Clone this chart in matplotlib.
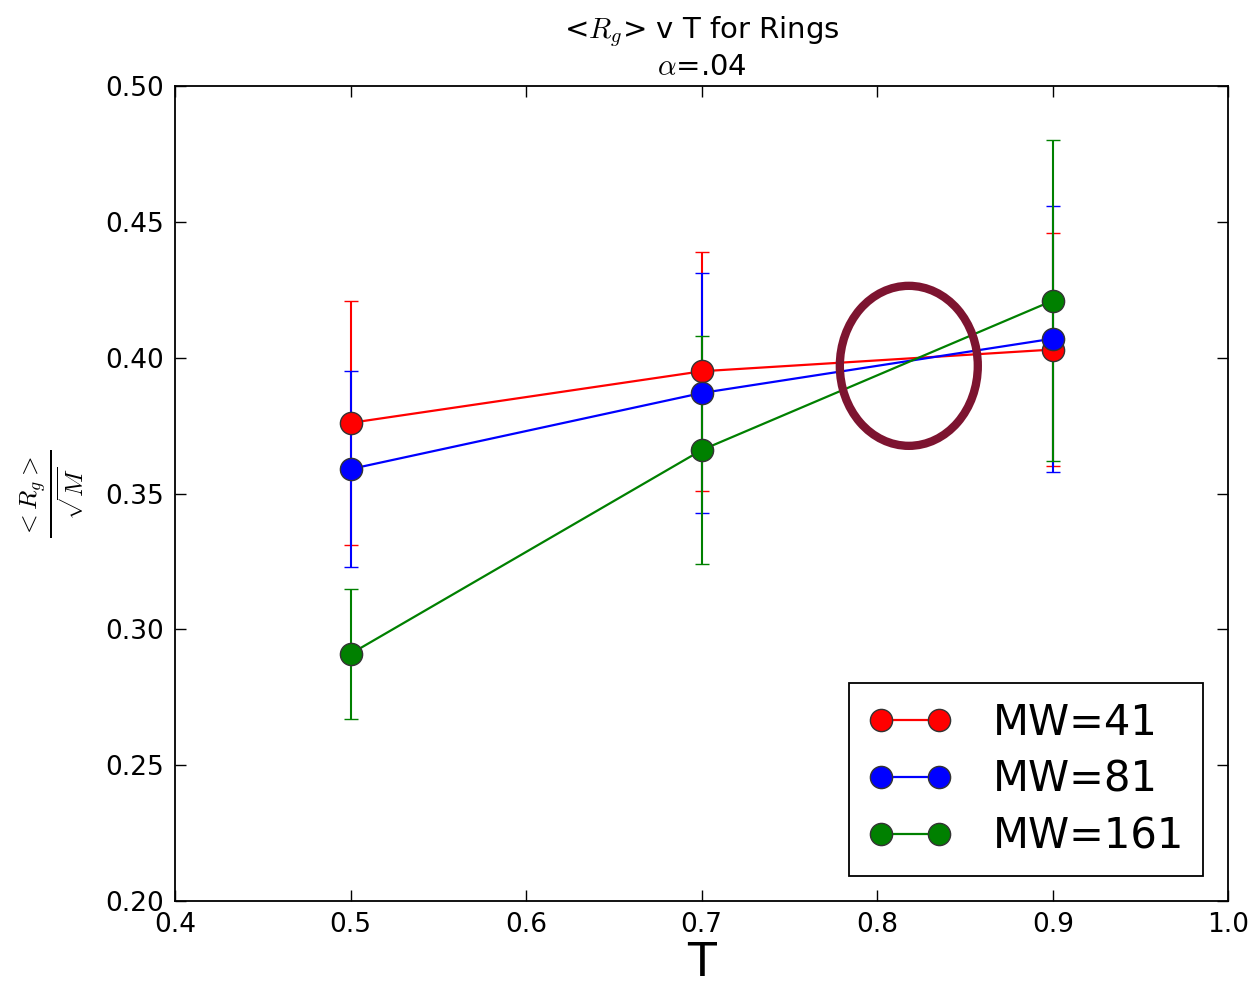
import matplotlib
matplotlib.use("Agg")
import matplotlib.pyplot as plt
from matplotlib.patches import Ellipse
from matplotlib.lines import Line2D

T = [0.5, 0.7, 0.9]
labels = ["MW=41", "MW=81", "MW=161"]
colors = ["red", "blue", "green"]
rg_41 = [0.376, 0.395, 0.403]
err_41 = [0.045, 0.044, 0.043]
rg_81 = [0.359, 0.387, 0.407]
err_81 = [0.036, 0.044, 0.049]
rg_161 = [0.291, 0.366, 0.421]
err_161 = [0.024, 0.042, 0.059]

plt.rcParams['mathtext.fontset'] = 'cm'
plt.rcParams['font.family'] = 'DejaVu Sans'

fig = plt.figure(figsize=(12.53, 9.9), dpi=100)
ax = fig.add_axes([0.1397, 0.0899, 0.8406, 0.8232])

series = [rg_41, rg_81, rg_161]
errs = [err_41, err_81, err_161]
handles = []
for y, e, c, lab in zip(series, errs, colors, labels):
    ax.errorbar(T, y, yerr=e, color=c, marker='o', markersize=16,
                markeredgecolor='#333333', markeredgewidth=1.0,
                linewidth=1.6, elinewidth=1.5, capsize=5, capthick=1.2)
    handles.append(Line2D([], [], color=c, marker='o', markersize=16,
                          markeredgecolor='#333333', markeredgewidth=1.0,
                          linewidth=1.6, label=lab))

ell = Ellipse((0.818, 0.397), 0.0786, 0.0589, fill=False,
              edgecolor='#7d1430', linewidth=6, zorder=5)
ax.add_patch(ell)

ax.set_xlim(0.4, 1.0)
ax.set_ylim(0.20, 0.50)
ax.set_xticks([0.4, 0.5, 0.6, 0.7, 0.8, 0.9, 1.0])
ax.set_xticklabels(['0.4', '0.5', '0.6', '0.7', '0.8', '0.9', '1.0'])
ax.set_yticks([0.20, 0.25, 0.30, 0.35, 0.40, 0.45, 0.50])
ax.set_yticklabels(['0.20', '0.25', '0.30', '0.35', '0.40', '0.45', '0.50'])
ax.tick_params(direction='in', top=True, right=True, length=8, width=1,
               labelsize=19, pad=8)
for s in ax.spines.values():
    s.set_linewidth(1.3)

ax.set_xlabel('T', fontsize=34, labelpad=2)
ax.set_ylabel(r'$\frac{<R_g>}{\sqrt{M}}$', fontsize=26, labelpad=14)
ax.set_title(r'<$R_g$> v T for Rings' + '\n' + r'$\alpha$=.04', fontsize=21,
             linespacing=1.2, pad=8)

leg = ax.legend(handles=handles, loc='lower right', numpoints=2, fontsize=30,
                fancybox=False, edgecolor='black', framealpha=1, borderpad=0.45,
                handlelength=2.0, labelspacing=0.35, handletextpad=1.0,
                borderaxespad=0.6)
leg.get_frame().set_linewidth(1.3)

fig.savefig('out.png', dpi=100)
